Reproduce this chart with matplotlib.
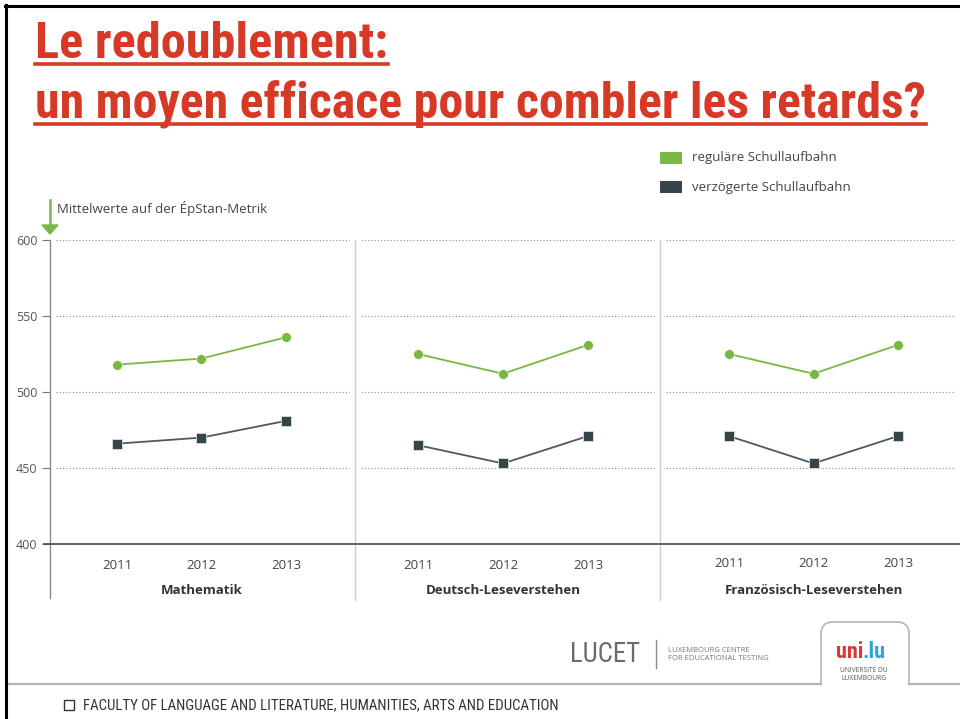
import matplotlib
matplotlib.use("Agg")
import matplotlib.pyplot as plt
from matplotlib.lines import Line2D
from matplotlib.patches import Rectangle, Polygon, PathPatch
from matplotlib.path import Path
from matplotlib import font_manager as fm

# ---------------- data ----------------
years = ["2011", "2012", "2013"]
subjects = ["Mathematik", "Deutsch-Leseverstehen", "Französisch-Leseverstehen"]
regular = [
    [518, 522, 536],
    [525, 512, 531],
    [525, 512, 531],
]
delayed = [
    [466, 470, 481],
    [465, 453, 471],
    [471, 453, 471],
]
series_names = ["reguläre Schullaufbahn", "verzögerte Schullaufbahn"]
y_ticks = [400, 450, 500, 550, 600]
axis_label = "Mittelwerte auf der ÉpStan-Metrik"
title_lines = ["Le redoublement:", "un moyen efficace pour combler les retards?"]
footer_text = "FACULTY OF LANGUAGE AND LITERATURE, HUMANITIES, ARTS AND EDUCATION"

GREEN = "#78b843"
DARK = "#35454a"
RED = "#d63a27"
GRAY_TXT = "#555555"

W, H = 960, 719
fig = plt.figure(figsize=(W / 100, H / 100), dpi=100)
fig.patch.set_facecolor("white")

avail = sorted({f.name for f in fm.fontManager.ttflist})
narrow = None
for cand in ["Liberation Sans Narrow", "Roboto Condensed", "Open Sans Condensed",
             "DejaVu Sans Condensed", "Noto Sans Condensed"]:
    if cand in avail:
        narrow = cand
        break
if narrow is None:
    for n in avail:
        if "Narrow" in n or "Condensed" in n:
            narrow = n
            break
if narrow is None:
    narrow = "Liberation Sans"
NARROW = [narrow, "DejaVu Sans"]
body = ["Open Sans", "DejaVu Sans"]

def fx(px):
    return px / W

def fy(py):
    return 1 - py / H

def fline(x0, y0, x1, y1, **kw):
    fig.add_artist(Line2D([fx(x0), fx(x1)], [fy(y0), fy(y1)], transform=fig.transFigure, **kw))

# panel geometry (pixels)
panels_px = [(50, 355), (355, 660), (660, 960)]
xlims = [(-0.793, 2.817), (-0.741, 2.847), (-0.817, 2.734)]
top_px, bot_px = 240, 544

axes = []
for i, ((x0, x1), xl) in enumerate(zip(panels_px, xlims)):
    ax = fig.add_axes([fx(x0), fy(bot_px), fx(x1 - x0), (bot_px - top_px) / H])
    ax.set_xlim(*xl)
    ax.set_ylim(400, 600)
    ax.patch.set_alpha(0)
    for s in ax.spines.values():
        s.set_visible(False)
    ax.set_xticks([])
    if i == 0:
        ax.set_yticks(y_ticks)
        ax.set_yticklabels([str(t) for t in y_ticks], fontsize=9, color=GRAY_TXT, family=body)
        ax.tick_params(axis="y", length=6, width=0.8, color="#777777", pad=3)
    else:
        ax.set_yticks([])
    for t in y_ticks[1:]:
        ax.axhline(t, xmin=0.02, xmax=0.98, color="#9a9a9a", lw=0.9,
                   linestyle=(0, (1, 1.6)), zorder=1)
    xs = range(len(years))
    ax.plot(xs, regular[i], color=GREEN, lw=1.3, marker="o", ms=7,
            markeredgecolor="white", markeredgewidth=0.4, zorder=3, clip_on=False)
    ax.plot(xs, delayed[i], color="#4d5a5e", lw=1.3, marker="s", ms=7,
            markerfacecolor=DARK, markeredgecolor="#dddddd", markeredgewidth=0.6,
            zorder=3, clip_on=False)
    ypos = -0.070 if i < 2 else -0.064
    for xi, yr in enumerate(years):
        ax.text(xi, ypos, yr, transform=ax.get_xaxis_transform(), ha="center", va="center",
                fontsize=9.5, color="#444444", family=body)
    ax.text(1, -0.152, subjects[i], transform=ax.get_xaxis_transform(), ha="center",
            va="center", fontsize=9.5, fontweight="bold", color="#333333", family=body)
    axes.append(ax)

# left axis line and dividers
fline(50, 240, 50, 598, color="#8a8a8a", lw=1.0)
fline(355, 240, 355, 600, color="#cccccc", lw=1.0)
fline(660, 240, 660, 600, color="#cccccc", lw=1.0)
fline(44, 544, 960, 544, color="#4a5558", lw=1.3)

# green arrow and axis caption
fline(50, 200, 50, 226, color=GREEN, lw=1.8)
fig.add_artist(Polygon([[fx(42), fy(225)], [fx(58), fy(225)], [fx(50), fy(234)]],
                       closed=True, transform=fig.transFigure, color=GREEN))
fig.text(fx(57), fy(208), axis_label, fontsize=9.5, color="#444444", family=body,
         ha="left", va="center")

# legend
for k, (nm, col) in enumerate(zip(series_names, [GREEN, DARK])):
    yc = 158 + k * 29
    fig.add_artist(Rectangle((fx(660), fy(yc + 6)), fx(22), 12 / H, transform=fig.transFigure,
                             facecolor=col, edgecolor="none"))
    fig.text(fx(692), fy(yc), nm, fontsize=9.5, color="#444444", family=body,
             ha="left", va="center")

# title
t1 = fig.text(fx(35), fy(58), title_lines[0], fontsize=35, fontweight="bold", color=RED,
              family=NARROW, ha="left", va="baseline")
t2 = fig.text(fx(35), fy(118), title_lines[1], fontsize=35, fontweight="bold", color=RED,
              family=NARROW, ha="left", va="baseline")

# footer
fline(7, 684, 821, 684, color="#b5b5b5", lw=1.6)
fline(909, 684, 960, 684, color="#b5b5b5", lw=1.6)
tab_px = [(821, 684), (821, 634), (821, 622), (833, 622), (897, 622), (909, 622),
          (909, 634), (909, 684)]
codes = [Path.MOVETO, Path.LINETO, Path.CURVE3, Path.CURVE3, Path.LINETO,
         Path.CURVE3, Path.CURVE3, Path.LINETO]
tab = Path([(fx(x), fy(y)) for x, y in tab_px], codes)
fig.add_artist(PathPatch(tab, transform=fig.transFigure, facecolor="none",
                         edgecolor="#b5b5b5", lw=1.2))
fig.add_artist(Rectangle((fx(64), fy(710)), fx(10), 10 / H, transform=fig.transFigure,
                         facecolor="none", edgecolor="#333333", lw=1.0))
tf = fig.text(fx(83), fy(705), footer_text, fontsize=10.5, color="#333333",
              family=NARROW, ha="left", va="center")

# LUCET logo
tl = fig.text(fx(570), fy(655), "LUCET", fontsize=21, color="#6b6b6b", family=NARROW,
              ha="left", va="center")
fline(656, 640, 656, 668, color="#8a8a8a", lw=1.0)
fig.text(fx(668), fy(650), "LUXEMBOURG CENTRE", fontsize=5.5, color="#777777",
         family=body, ha="left", va="center")
fig.text(fx(668), fy(659), "FOR EDUCATIONAL TESTING", fontsize=5.5, color="#777777",
         family=body, ha="left", va="center")
# uni.lu logo
fig.text(fx(863), fy(652), "uni", fontsize=16, fontweight="bold", color="#d83a35",
         family=NARROW, ha="right", va="center")
fig.text(fx(863), fy(652), ".lu", fontsize=16, fontweight="bold", color="#2aa6dd",
         family=NARROW, ha="left", va="center")
fig.text(fx(864), fy(671), "UNIVERSITÉ DU", fontsize=4.8, color="#555555",
         family=body, ha="center", va="center")
fig.text(fx(864), fy(679), "LUXEMBOURG", fontsize=4.8, color="#555555",
         family=body, ha="center", va="center")

# fit widths of texts drawn in a wider font than the original condensed one
fig.canvas.draw()
r = fig.canvas.get_renderer()
for t, target in [(t1, 353), (t2, 890), (tf, 474), (tl, 70)]:
    w = t.get_window_extent(r).width
    t.set_fontsize(t.get_fontsize() * target / w)
fig.canvas.draw()
for t, uy in [(t1, 64), (t2, 124)]:
    bb = t.get_window_extent(r)
    fline(bb.x0, uy, bb.x1, uy, color=RED, lw=2.6)

# frame
fline(5, 6, 960, 6, color="black", lw=2.2)
fline(6, 5, 6, 719, color="black", lw=2.2)

fig.savefig("out.png", dpi=100)
